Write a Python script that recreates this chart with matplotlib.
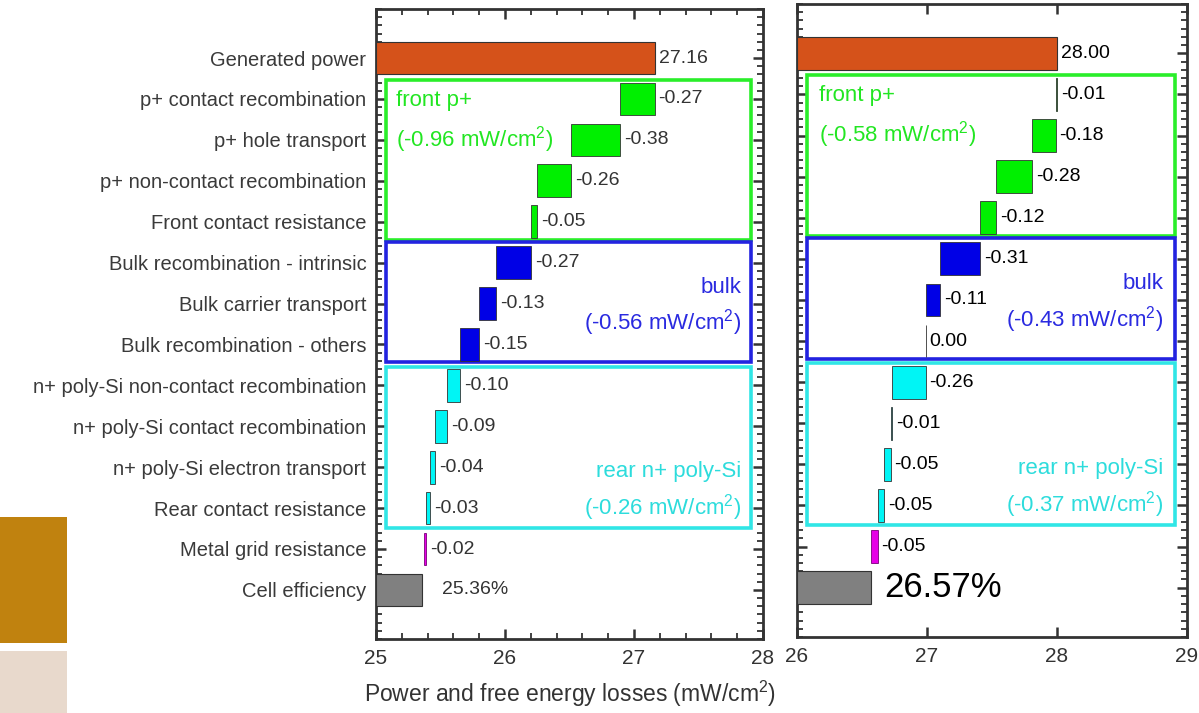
import numpy as np
import matplotlib
matplotlib.use("Agg")
import matplotlib.pyplot as plt
from matplotlib.patches import Rectangle
from matplotlib.ticker import MultipleLocator

plt.rcParams['font.family'] = ['Liberation Sans', 'DejaVu Sans']
plt.rcParams['mathtext.default'] = 'regular'

# waterfall data (mW/cm2)
row_labels = ["Generated power", "p+ contact recombination", "p+ hole transport",
              "p+ non-contact recombination", "Front contact resistance",
              "Bulk recombination - intrinsic", "Bulk carrier transport",
              "Bulk recombination - others", "n+ poly-Si non-contact recombination",
              "n+ poly-Si contact recombination", "n+ poly-Si electron transport",
              "Rear contact resistance", "Metal grid resistance", "Cell efficiency"]

left_steps = [27.16, -0.27, -0.38, -0.26, -0.05, -0.27, -0.13, -0.15,
              -0.10, -0.09, -0.04, -0.03, -0.02]
left_eff = 25.36
left_group_loss = [-0.96, -0.56, -0.26]

right_steps = [28.00, -0.01, -0.18, -0.28, -0.12, -0.31, -0.11, 0.00,
               -0.26, -0.01, -0.05, -0.05, -0.05]
right_eff = 26.57
right_group_loss = [-0.58, -0.43, -0.37]

group_names = ["front p+", "bulk", "rear n+ poly-Si"]

bar_colors = (["#d5521a"] + ["#00f000"] * 4 + ["#0000e6"] * 3 +
              ["#00f5f5"] * 4 + ["#e600e6"] + ["#808080"])
edge_colors = (["#333333"] * 12 + ["#7a007a"] + ["#333333"])
box_colors = ["#2aee2a", "#2323e0", "#30e6e6"]
text_colors = ["#22e622", "#2a2ae0", "#2ddcdc"]

W, H = 1199, 713
fig = plt.figure(figsize=(W / 100, H / 100), dpi=100)

# decorative blocks on the left edge
fig.patches.append(Rectangle((0, 1 - 643 / H), 67 / W, 126 / H, transform=fig.transFigure,
                             facecolor="#c0820f", edgecolor="none"))
fig.patches.append(Rectangle((0, 0), 67 / W, 62 / H, transform=fig.transFigure,
                             facecolor="#e8d9cc", edgecolor="none"))


def waterfall(ax, steps, eff, xmin, xmax, group_loss, left_box, right_txt,
              val_color, eff_size, eff_off):
    n = len(steps) + 1
    y = np.arange(n)
    total = steps[0]
    ax.barh(0, total - xmin, left=xmin, height=0.8, color=bar_colors[0],
            edgecolor=edge_colors[0], linewidth=0.8, zorder=3)
    ax.text(total + 0.03, 0, f"{total:.2f}", va="center", ha="left",
            fontsize=14, color=val_color)
    for i, s in enumerate(steps[1:], start=1):
        new = total + s
        ax.barh(i, new - total, left=total, height=0.8, color=bar_colors[i],
                edgecolor=edge_colors[i], linewidth=0.6, zorder=3)
        ax.text(max(total, new) + 0.03, i, f"{s:.2f}", va="center", ha="left",
                fontsize=14, color=val_color)
        total = new
    ax.barh(n - 1, eff - xmin, left=xmin, height=0.8, color=bar_colors[-1],
            edgecolor=edge_colors[-1], linewidth=0.8, zorder=3)
    ax.text(eff + eff_off, n - 1, f"{eff:.2f}%", va="center", ha="left",
            fontsize=eff_size, color=val_color)

    # group boxes
    spans = [(0.53, 4.45), (4.5, 7.44), (7.54, 11.48)]
    for k, (a, b) in enumerate(spans):
        ax.add_patch(Rectangle((left_box, a), right_txt[2] - left_box, b - a,
                               facecolor="none", edgecolor=box_colors[k],
                               linewidth=2.6, zorder=2))
    ax.text(right_txt[0], 1.03, group_names[0], color=text_colors[0], fontsize=16,
            ha="left", va="center")
    ax.text(right_txt[0], 1.98, f"({group_loss[0]:.2f} mW/cm$^2$)",
            color=text_colors[0], fontsize=16, ha="left", va="center")
    ax.text(right_txt[1], 5.6, group_names[1], color=text_colors[1], fontsize=16,
            ha="right", va="center")
    ax.text(right_txt[1], 6.47, f"({group_loss[1]:.2f} mW/cm$^2$)",
            color=text_colors[1], fontsize=16, ha="right", va="center")
    ax.text(right_txt[1], 10.1, group_names[2], color=text_colors[2], fontsize=16,
            ha="right", va="center")
    ax.text(right_txt[1], 10.98, f"({group_loss[2]:.2f} mW/cm$^2$)",
            color=text_colors[2], fontsize=16, ha="right", va="center")

    ax.set_xlim(xmin, xmax)
    ax.set_ylim(14.2, -1.2)
    ax.set_yticks(y)
    ax.yaxis.set_minor_locator(MultipleLocator(0.2))
    ax.xaxis.set_major_locator(MultipleLocator(1))
    for sp in ax.spines.values():
        sp.set_linewidth(2)
        sp.set_color("#333333")
    ax.tick_params(which="both", direction="in", top=True, right=True,
                   color="#333333", labelsize=15, labelcolor="#333333")
    ax.tick_params(which="major", length=7, width=1.8, pad=7)
    ax.tick_params(which="minor", length=4, width=1.3)


# left panel
ax1 = fig.add_axes([376 / W, 1 - 639 / H, 387 / W, 630 / H])
waterfall(ax1, left_steps, left_eff, 25, 28, left_group_loss,
          25.078, (25.155, 27.83, 27.907), "#333333", 14, 0.155)
ax1.set_yticklabels(row_labels, fontsize=14.5, color="#3a3a3a")
ax1.xaxis.set_minor_locator(MultipleLocator(0.2))
ax1.set_xlabel("Power and free energy losses (mW/cm$^2$)", fontsize=16.5,
               color="#333333", labelpad=8)

# right panel
ax2 = fig.add_axes([797 / W, 1 - 637 / H, 390 / W, 633 / H])
waterfall(ax2, right_steps, right_eff, 26, 29, right_group_loss,
          26.077, (26.17, 28.82, 28.908), "black", 25, 0.1)
ax2.set_yticklabels([])

fig.savefig("out.png", dpi=100)
